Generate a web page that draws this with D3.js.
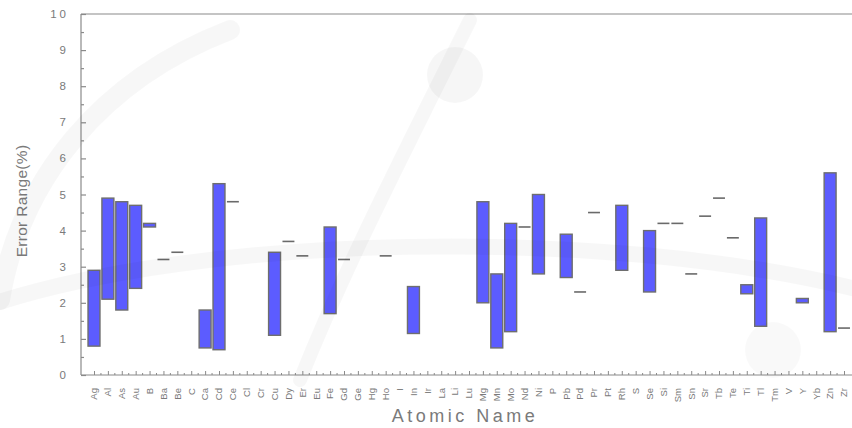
<!DOCTYPE html>
<html>
<head>
<meta charset="utf-8">
<script src="https://cdn.jsdelivr.net/npm/d3@7"></script>
<style>
  html, body { margin: 0; padding: 0; background: #ffffff; }
  svg { display: block; }
</style>
</head>
<body>
<svg id="chart" width="852" height="428"></svg>
<script>
// Element symbols along the x axis
const categories = ["Ag","Al","As","Au","B","Ba","Be","C","Ca","Cd","Ce","Cl","Cr","Cu","Dy","Er","Eu","Fe","Gd","Ge","Hg","Ho","I","In","Ir","La","Li","Lu","Mg","Mn","Mo","Nd","Ni","P","Pb","Pd","Pr","Pt","Rh","S","Se","Si","Sm","Sn","Sr","Tb","Te","Ti","Tl","Tm","V","Y","Yb","Zn","Zr"];

// Lower and upper end of each element's error range (%); null = no data
const lowValues  = [0.8, 2.1, 1.8, 2.4, 4.1, 3.2, 3.4, null, 0.75, 0.7, 4.8, null, null, 1.1, 3.7, 3.3, null, 1.7, 3.2, null, null, 3.3, null, 1.15, null, null, null, null, 2.0, 0.75, 1.2, 4.1, 2.8, null, 2.7, 2.3, 4.5, null, 2.9, null, 2.3, 4.2, 4.2, 2.8, 4.4, 4.9, 3.8, 2.25, 1.35, null, null, 2.0, null, 1.2, 1.3];
const highValues = [2.9, 4.9, 4.8, 4.7, 4.2, 3.2, 3.4, null, 1.8, 5.3, 4.8, null, null, 3.4, 3.7, 3.3, null, 4.1, 3.2, null, null, 3.3, null, 2.45, null, null, null, null, 4.8, 2.8, 4.2, 4.1, 5.0, null, 3.9, 2.3, 4.5, null, 4.7, null, 4.0, 4.2, 4.2, 2.8, 4.4, 4.9, 3.8, 2.5, 4.35, null, null, 2.12, null, 5.6, 1.3];

// Y axis tick values
const yTicks = [0, 1, 2, 3, 4, 5, 6, 7, 8, 9, 10];

const svg = d3.select("#chart");
const plot = { left: 81, right: 852, top: 14, bottom: 375 };

const x = d3.scalePoint().domain(categories).range([94, 844]);
const step = x.step();
const barW = step * 0.86;
const y = d3.scaleLinear().domain([0, 10]).range([plot.bottom, plot.top]);

const grey = "#8a8a8a";
const textGrey = "#7a7a7a";
const font = "Liberation Sans, Arial, sans-serif";

// Frame lines
svg.append("line").attr("x1", plot.left).attr("x2", plot.left).attr("y1", plot.top).attr("y2", plot.bottom)
  .attr("stroke", grey).attr("stroke-width", 1.2);
svg.append("line").attr("x1", plot.left).attr("x2", plot.right).attr("y1", plot.top).attr("y2", plot.top)
  .attr("stroke", grey).attr("stroke-width", 1.2);
svg.append("line").attr("x1", plot.left).attr("x2", plot.right).attr("y1", plot.bottom).attr("y2", plot.bottom)
  .attr("stroke", grey).attr("stroke-width", 1.2);

// Y axis: inward ticks, major at integers, minor at halves
const yAxis = d3.axisRight(y).tickValues(yTicks).tickSize(5).tickFormat("");
const yg = svg.append("g").attr("transform", `translate(${plot.left},0)`).call(yAxis);
yg.select(".domain").remove();
yg.selectAll("line").attr("stroke", grey).attr("stroke-width", 1.2);
const yMinor = d3.axisRight(y).tickValues(yTicks.slice(0, -1).map(v => v + 0.5)).tickSize(3).tickFormat("");
const ym = svg.append("g").attr("transform", `translate(${plot.left},0)`).call(yMinor);
ym.select(".domain").remove();
ym.selectAll("line").attr("stroke", grey).attr("stroke-width", 1.2);

svg.append("g").selectAll("text").data(yTicks).join("text")
  .attr("x", 69).attr("y", d => y(d)).attr("dy", "0.35em")
  .attr("text-anchor", "end")
  .attr("font-family", font)
  .attr("font-size", 11.5).attr("letter-spacing", 3)
  .attr("fill", textGrey)
  .text(d => d);

// X axis: upward ticks at every category, short ones in between
const xg = svg.append("g").attr("transform", `translate(0,${plot.bottom})`).call(
  d3.axisTop(x).tickSize(4).tickFormat(""));
xg.select(".domain").remove();
xg.selectAll("line").attr("stroke", grey).attr("stroke-width", 1);
svg.append("g").selectAll("line").data(categories.slice(0, -1)).join("line")
  .attr("x1", d => x(d) + step / 2).attr("x2", d => x(d) + step / 2)
  .attr("y1", plot.bottom).attr("y2", plot.bottom - 2)
  .attr("stroke", grey).attr("stroke-width", 1);

// Rotated element labels
svg.append("g").selectAll("text").data(categories).join("text")
  .attr("transform", d => `translate(${x(d)},388) rotate(-90)`)
  .attr("dy", "0.35em")
  .attr("text-anchor", "end")
  .attr("font-family", font)
  .attr("font-size", 9.5)
  .attr("fill", textGrey)
  .text(d => d);

// Axis titles
svg.append("text")
  .attr("x", 465).attr("y", 422)
  .attr("text-anchor", "middle")
  .attr("font-family", font)
  .attr("font-size", 18).attr("letter-spacing", 3.5)
  .attr("fill", textGrey)
  .text("Atomic Name");
svg.append("text")
  .attr("transform", `translate(27,201) rotate(-90)`)
  .attr("text-anchor", "middle")
  .attr("font-family", font)
  .attr("font-size", 15.5).attr("letter-spacing", 0.3)
  .attr("fill", textGrey)
  .text("Error Range(%)");

// Floating range bars; a range whose ends coincide is drawn as a short line
const rows = categories.map((c, i) => ({ name: c, lo: lowValues[i], hi: highValues[i] }))
  .filter(d => d.lo !== null && d.hi !== null);

svg.append("g").selectAll("rect").data(rows.filter(d => d.hi > d.lo)).join("rect")
  .attr("x", d => x(d.name) - barW / 2)
  .attr("width", barW)
  .attr("y", d => y(d.hi))
  .attr("height", d => y(d.lo) - y(d.hi))
  .attr("fill", "#5c5cff")
  .attr("stroke", "#6e6e6e")
  .attr("stroke-width", 1.4);

svg.append("g").selectAll("line").data(rows.filter(d => d.hi === d.lo)).join("line")
  .attr("x1", d => x(d.name) - barW / 2)
  .attr("x2", d => x(d.name) + barW / 2)
  .attr("y1", d => y(d.hi))
  .attr("y2", d => y(d.hi))
  .attr("stroke", "#6a6a6a")
  .attr("stroke-width", 1.6);

// Faint background emblem laid over the chart
const wm = svg.append("g").attr("fill", "none").attr("stroke", "#000").attr("stroke-opacity", 0.03).attr("stroke-linecap", "round");
wm.append("path").attr("d", "M -10,305 C 200,235 600,225 860,290").attr("stroke-width", 16);
wm.append("path").attr("d", "M 300,380 C 340,280 380,200 470,20").attr("stroke-width", 14);
wm.append("path").attr("d", "M 0,300 C 20,180 100,80 230,30").attr("stroke-width", 20);
svg.append("circle").attr("cx", 455).attr("cy", 75).attr("r", 28).attr("fill", "#000").attr("fill-opacity", 0.035);
svg.append("circle").attr("cx", 773).attr("cy", 350).attr("r", 28).attr("fill", "#000").attr("fill-opacity", 0.025);
</script>
</body>
</html>
